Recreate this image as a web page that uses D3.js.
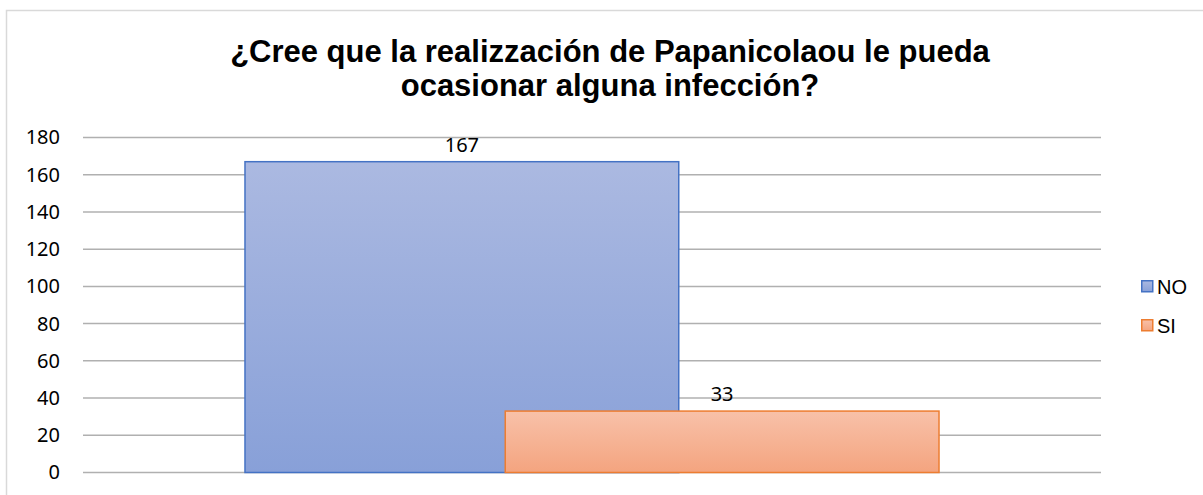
<!DOCTYPE html>
<html>
<head>
<meta charset="utf-8">
<script src="https://cdn.jsdelivr.net/npm/d3@7"></script>
<style>
    html, body { margin: 0; padding: 0; background: #fff; }
    svg { display: block; }
</style>
</head>
<body>
<div id="chart"></div>
<script>
const titleLines = ['¿Cree que la realizzación de Papanicolaou le pueda', 'ocasionar alguna infección?'];
const categories = ['Papanicolaou'];
const series = ['NO', 'SI'];
const values = [167, 33];
const yTicks = [0, 20, 40, 60, 80, 100, 120, 140, 160, 180];

const width = 1203;
const height = 495;
const margin = { top: 137.5, right: 102, bottom: 22.5, left: 83 };
const overlap = 0.4;

const colors = {
    NO: { top: '#abb9e1', bottom: '#88a0d8', stroke: '#4472c4' },
    SI: { top: '#f8c1a9', bottom: '#f4a47f', stroke: '#ed7d31' },
};

const svg = d3.select('#chart')
    .append('svg')
    .attr('width', width)
    .attr('height', height);

// chart frame (extends past the right/bottom of the window)
svg.append('rect')
    .attr('x', 6.5)
    .attr('y', 10.5)
    .attr('width', 1220)
    .attr('height', 500)
    .attr('fill', 'none')
    .attr('stroke', '#d9d9d9')
    .attr('stroke-width', 1.5);

const defs = svg.append('defs');
series.forEach(s => {
    const g = defs.append('linearGradient')
        .attr('id', `grad-${s}`)
        .attr('x1', 0).attr('y1', 0)
        .attr('x2', 0).attr('y2', 1);
    g.append('stop').attr('offset', '0%').attr('stop-color', colors[s].top);
    g.append('stop').attr('offset', '100%').attr('stop-color', colors[s].bottom);
});

const title = svg.append('text')
    .attr('x', 610)
    .attr('text-anchor', 'middle')
    .attr('font-family', '"Liberation Sans", Arial, sans-serif')
    .attr('font-weight', 'bold')
    .attr('font-size', 31)
    .attr('fill', '#000');
title.selectAll('tspan')
    .data(titleLines)
    .join('tspan')
    .attr('x', 610)
    .attr('y', (d, i) => 62 + i * 34)
    .text(d => d);

const plotRight = width - margin.right;
const plotBottom = height - margin.bottom;

const y = d3.scaleLinear()
    .domain([0, 180])
    .range([plotBottom, margin.top]);

const x0 = d3.scaleBand()
    .domain(categories)
    .range([margin.left, plotRight])
    .paddingInner(0)
    .paddingOuter(0.2334);

const barW = x0.bandwidth() / (series.length - overlap * (series.length - 1));
const x1 = d3.scaleLinear()
    .domain([0, 1])
    .range([0, barW * (1 - overlap)]);

// gridlines
svg.append('g')
    .selectAll('line')
    .data(yTicks)
    .join('line')
    .attr('x1', margin.left)
    .attr('x2', plotRight)
    .attr('y1', d => y(d))
    .attr('y2', d => y(d))
    .attr('stroke', '#b0b0b0')
    .attr('stroke-width', 1.5);

// y axis labels
const yAxis = svg.append('g')
    .attr('transform', `translate(${margin.left},0)`)
    .call(d3.axisLeft(y).tickValues(yTicks).tickSize(0).tickPadding(23));
yAxis.select('.domain').remove();
yAxis.selectAll('text')
    .attr('font-family', '"Noto Sans", sans-serif')
    .attr('font-size', 20)
    .attr('fill', '#000');

const bars = series.map((s, i) => ({
    series: s,
    value: values[i],
    x: x0(categories[0]) + x1(i),
}));

svg.append('g')
    .selectAll('rect')
    .data(bars)
    .join('rect')
    .attr('x', d => d.x)
    .attr('y', d => y(d.value))
    .attr('width', barW)
    .attr('height', d => y(0) - y(d.value))
    .attr('fill', d => `url(#grad-${d.series})`)
    .attr('stroke', d => colors[d.series].stroke)
    .attr('stroke-width', 1.5);

svg.append('g')
    .selectAll('text')
    .data(bars)
    .join('text')
    .attr('x', d => d.x + barW / 2)
    .attr('y', d => y(d.value) - 10)
    .attr('text-anchor', 'middle')
    .attr('font-family', '"Noto Sans", sans-serif')
    .attr('font-size', 20)
    .attr('fill', '#000')
    .text(d => d.value);

// legend
const legend = svg.append('g')
    .selectAll('g')
    .data(series)
    .join('g')
    .attr('transform', (d, i) => `translate(1141,${280 + i * 39})`);
legend.append('rect')
    .attr('width', 11)
    .attr('height', 11)
    .attr('x', 0.75)
    .attr('y', 0.75)
    .attr('fill', d => `url(#grad-${d})`)
    .attr('stroke', d => colors[d].stroke)
    .attr('stroke-width', 1.5);
legend.append('text')
    .attr('x', 16)
    .attr('y', 13.5)
    .attr('font-family', '"Liberation Sans", Arial, sans-serif')
    .attr('font-size', 20)
    .attr('fill', '#000')
    .text(d => d);
</script>
</body>
</html>
